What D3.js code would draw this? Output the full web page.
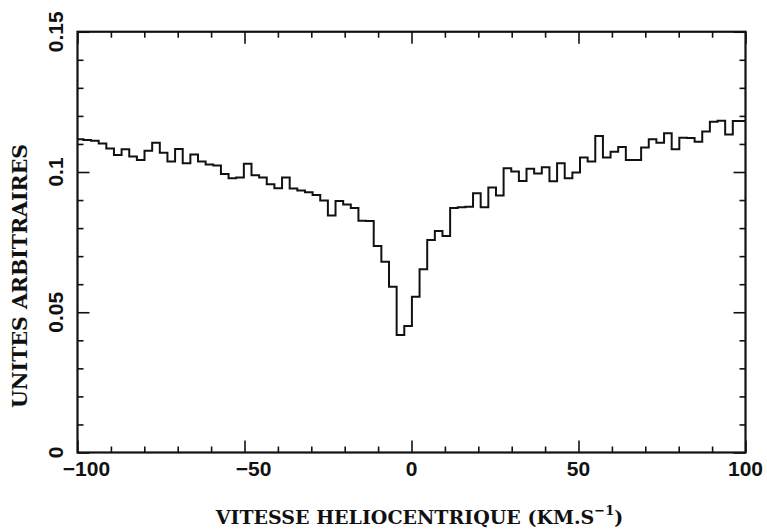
<!DOCTYPE html>
<html>
<head>
<meta charset="utf-8">
<script src="https://cdn.jsdelivr.net/npm/d3@7/dist/d3.min.js"></script>
<style>
  body { margin: 0; background: #fff; }
  svg { display: block; }
</style>
</head>
<body>
<svg id="chart" width="767" height="532"></svg>
<script>
// Heliocentric velocity of each channel centre (km/s)
const velocity = [
  -99.37, -97.09, -94.80, -92.51, -90.23, -87.94, -85.65, -83.36, -81.08, -78.79,
  -76.50, -74.21, -71.93, -69.64, -67.35, -65.06, -62.78, -60.49, -58.20, -55.91,
  -53.63, -51.34, -49.05, -46.76, -44.48, -42.19, -39.90, -37.61, -35.33, -33.04,
  -30.75, -28.47, -26.18, -23.89, -21.60, -19.32, -17.03, -14.74, -12.45, -10.17,
  -7.88, -5.59, -3.30, -1.02, 1.27, 3.56, 5.85, 8.13, 10.42, 12.71,
  15.00, 17.28, 19.57, 21.86, 24.15, 26.43, 28.72, 31.01, 33.30, 35.58,
  37.87, 40.16, 42.45, 44.73, 47.02, 49.31, 51.59, 53.88, 56.17, 58.46,
  60.74, 63.03, 65.32, 67.61, 69.89, 72.18, 74.47, 76.76, 79.04, 81.33,
  83.62, 85.91, 88.19, 90.48, 92.77, 95.06, 97.34, 99.63
];
// Channel width (km/s)
const channelWidth = 2.287;
// Intensity per channel (arbitrary units)
const intensity = [
  0.1117, 0.1114, 0.1111, 0.1102, 0.1084, 0.1061, 0.1081, 0.1055, 0.1043, 0.1076,
  0.1104, 0.1069, 0.1037, 0.1082, 0.1031, 0.1062, 0.1037, 0.1027, 0.1023, 0.0993,
  0.0978, 0.0980, 0.1029, 0.0988, 0.0980, 0.0956, 0.0942, 0.0980, 0.0941, 0.0934,
  0.0928, 0.0918, 0.0898, 0.0845, 0.0897, 0.0884, 0.0872, 0.0826, 0.0825, 0.0736,
  0.0680, 0.0591, 0.0419, 0.0451, 0.0555, 0.0653, 0.0758, 0.0790, 0.0772, 0.0872,
  0.0874, 0.0876, 0.0924, 0.0874, 0.0945, 0.0916, 0.1013, 0.1002, 0.0968, 0.1012,
  0.0995, 0.1017, 0.0967, 0.1031, 0.0978, 0.0998, 0.1052, 0.1037, 0.1128, 0.1052,
  0.1072, 0.1089, 0.1043, 0.1043, 0.1087, 0.1117, 0.1104, 0.1138, 0.1081, 0.1122,
  0.1121, 0.1108, 0.1144, 0.1179, 0.1183, 0.1134, 0.1182, 0.1182
];

const xMajorTicks = [-100, -50, 0, 50, 100];
const xMajorLabels = ["\u2212100", "\u221250", "0", "50", "100"];
const xMinorTicks = [-90, -80, -70, -60, -40, -30, -20, -10, 10, 20, 30, 40, 60, 70, 80, 90];
const yMajorTicks = [0, 0.05, 0.1, 0.15];
const yMajorLabels = ["0", "0.05", "0.1", "0.15"];
const yMinorTicks = [0.01, 0.02, 0.03, 0.04, 0.06, 0.07, 0.08, 0.09, 0.11, 0.12, 0.13, 0.14];

const xTitle = "VITESSE HELIOCENTRIQUE (KM.S";
const xTitleSup = "\u22121";
const yTitle = "UNITES ARBITRAIRES";

const svg = d3.select("#chart");
const plotLeft = 77.5, plotRight = 745.5, plotTop = 31.75, plotBottom = 452.5;

const x = d3.scaleLinear().domain([-100, 100]).range([plotLeft, plotRight]);
const y = d3.scaleLinear().domain([0, 0.15]).range([plotBottom, plotTop]);

const ink = "#111";
const tickFont = "'Liberation Sans', Arial, sans-serif";
const titleFont = "'DejaVu Serif', 'Liberation Serif', serif";

// clip for the spectrum
svg.append("defs").append("clipPath").attr("id", "plot-clip")
  .append("rect").attr("x", plotLeft).attr("y", plotTop)
  .attr("width", plotRight - plotLeft).attr("height", plotBottom - plotTop);

// step outline of the spectrum: each channel drawn as a flat segment
const steps = [];
velocity.forEach((v, i) => {
  steps.push([v - channelWidth / 2, intensity[i]]);
  steps.push([v + channelWidth / 2, intensity[i]]);
});
const line = d3.line().x(d => x(d[0])).y(d => y(d[1]));
svg.append("path")
  .attr("clip-path", "url(#plot-clip)")
  .attr("d", line(steps))
  .attr("fill", "none")
  .attr("stroke", ink)
  .attr("stroke-width", 2)
  .attr("stroke-linejoin", "miter");

// axes with inward ticks on all four sides
function styleAxis(g) {
  g.select(".domain").remove();
  g.selectAll(".tick line").attr("stroke", ink).attr("stroke-width", 1.6);
  g.selectAll(".tick text").remove();
}
const majorLen = 12, minorLen = 6;
svg.append("g").attr("transform", `translate(0,${plotBottom})`)
  .call(d3.axisBottom(x).tickValues(xMajorTicks).tickSize(-majorLen)).call(styleAxis);
svg.append("g").attr("transform", `translate(0,${plotBottom})`)
  .call(d3.axisBottom(x).tickValues(xMinorTicks).tickSize(-minorLen)).call(styleAxis);
svg.append("g").attr("transform", `translate(0,${plotTop})`)
  .call(d3.axisTop(x).tickValues(xMajorTicks).tickSize(-majorLen)).call(styleAxis);
svg.append("g").attr("transform", `translate(0,${plotTop})`)
  .call(d3.axisTop(x).tickValues(xMinorTicks).tickSize(-minorLen)).call(styleAxis);
svg.append("g").attr("transform", `translate(${plotLeft},0)`)
  .call(d3.axisLeft(y).tickValues(yMajorTicks).tickSize(-majorLen)).call(styleAxis);
svg.append("g").attr("transform", `translate(${plotLeft},0)`)
  .call(d3.axisLeft(y).tickValues(yMinorTicks).tickSize(-minorLen)).call(styleAxis);
svg.append("g").attr("transform", `translate(${plotRight},0)`)
  .call(d3.axisRight(y).tickValues(yMajorTicks).tickSize(-majorLen)).call(styleAxis);
svg.append("g").attr("transform", `translate(${plotRight},0)`)
  .call(d3.axisRight(y).tickValues(yMinorTicks).tickSize(-minorLen)).call(styleAxis);

// frame
svg.append("rect")
  .attr("x", plotLeft).attr("y", plotTop)
  .attr("width", plotRight - plotLeft).attr("height", plotBottom - plotTop)
  .attr("fill", "none").attr("stroke", ink).attr("stroke-width", 2.2);

// tick labels (negative values nudged so the digits sit near the tick)
svg.append("g").selectAll("text").data(xMajorTicks).join("text")
  .attr("x", d => x(d))
  .attr("dx", d => d < 0 ? 9 : 0)
  .attr("y", plotBottom + 23.5)
  .attr("text-anchor", "middle")
  .attr("font-family", tickFont)
  .attr("font-weight", "bold")
  .attr("font-size", 21)
  .attr("fill", ink)
  .text((d, i) => xMajorLabels[i]);

svg.append("g").selectAll("text").data(yMajorTicks).join("text")
  .attr("transform", d => `translate(${plotLeft - 15},${y(d)}) rotate(-90)`)
  .attr("text-anchor", "middle")
  .attr("font-family", tickFont)
  .attr("font-weight", "bold")
  .attr("font-size", 21)
  .attr("fill", ink)
  .text((d, i) => yMajorLabels[i]);

// axis titles
const xt = svg.append("text")
  .attr("x", (plotLeft + plotRight) / 2 + 8)
  .attr("y", 524)
  .attr("text-anchor", "middle")
  .attr("font-family", titleFont)
  .attr("font-weight", "bold")
  .attr("font-size", 19)
  .attr("fill", ink);
xt.append("tspan").text(xTitle);
xt.append("tspan").attr("dy", -9).attr("font-size", 13).text(xTitleSup);
xt.append("tspan").attr("dy", 9).text(")");

svg.append("text")
  .attr("transform", `translate(27,276) rotate(-90)`)
  .attr("text-anchor", "middle")
  .attr("font-family", titleFont)
  .attr("font-weight", "bold")
  .attr("font-size", 20.5)
  .attr("fill", ink)
  .text(yTitle);
</script>
</body>
</html>
